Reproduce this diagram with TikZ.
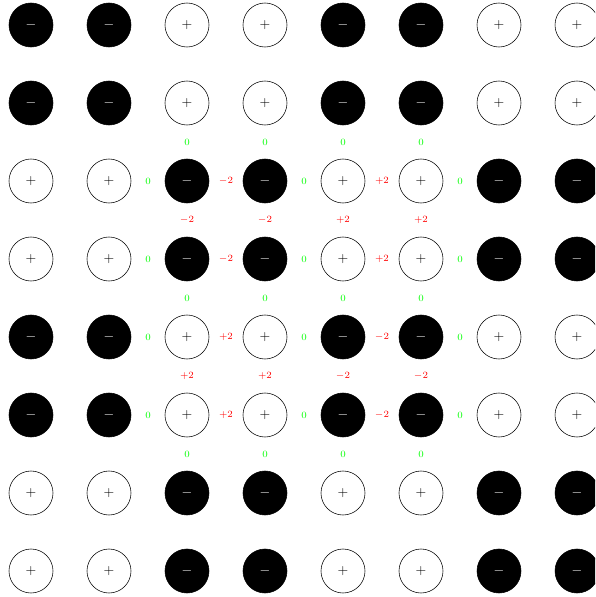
\documentclass[tikz,border=0pt]{standalone}
\begin{document}
\begin{tikzpicture}[x=0.7293pt,y=-0.7293pt,
  spinbase/.style={circle,draw=black,inner sep=0pt,minimum size=32.1pt},
  negspin/.style={spinbase,fill=black,text=white},
  posspin/.style={spinbase,fill=white,text=black},
  lblzero/.style={font=\scriptsize,text=green},
  lblred/.style={font=\scriptsize,text=red}]
\clip (0,0) rectangle (595,597);
\foreach \j in {0,...,7}{
  \foreach \i in {0,...,7}{
    \pgfmathtruncatemacro\s{mod(floor(\i/2)+floor(\j/2),2)}
    \ifnum\s=0
      \node[negspin] (n-\i-\j) at (31+78*\i,25+78*\j) {$-$};
    \else
      \node[posspin] (n-\i-\j) at (31+78*\i,25+78*\j) {$+$};
    \fi
  }
}
% horizontal labels
\foreach \j in {2,...,5}{
  \foreach \i in {1,...,5}{
    \pgfmathtruncatemacro\k{\i+1}
    \pgfmathtruncatemacro\a{mod(floor(\i/2)+floor(\j/2),2)}
    \pgfmathtruncatemacro\b{mod(floor(\k/2)+floor(\j/2),2)}
    \ifnum\a=\b
      \ifnum\a=0
        \path (n-\i-\j) -- node[lblred] {$-2$} (n-\k-\j);
      \else
        \path (n-\i-\j) -- node[lblred] {$+2$} (n-\k-\j);
      \fi
    \else
      \path (n-\i-\j) -- node[lblzero] {$0$} (n-\k-\j);
    \fi
  }
}
% vertical labels
\foreach \j in {1,...,5}{
  \foreach \i in {2,...,5}{
    \pgfmathtruncatemacro\k{\j+1}
    \pgfmathtruncatemacro\a{mod(floor(\i/2)+floor(\j/2),2)}
    \pgfmathtruncatemacro\b{mod(floor(\i/2)+floor(\k/2),2)}
    \ifnum\a=\b
      \ifnum\a=0
        \path (n-\i-\j) -- node[lblred] {$-2$} (n-\i-\k);
      \else
        \path (n-\i-\j) -- node[lblred] {$+2$} (n-\i-\k);
      \fi
    \else
      \path (n-\i-\j) -- node[lblzero] {$0$} (n-\i-\k);
    \fi
  }
}
\end{tikzpicture}
\end{document}
